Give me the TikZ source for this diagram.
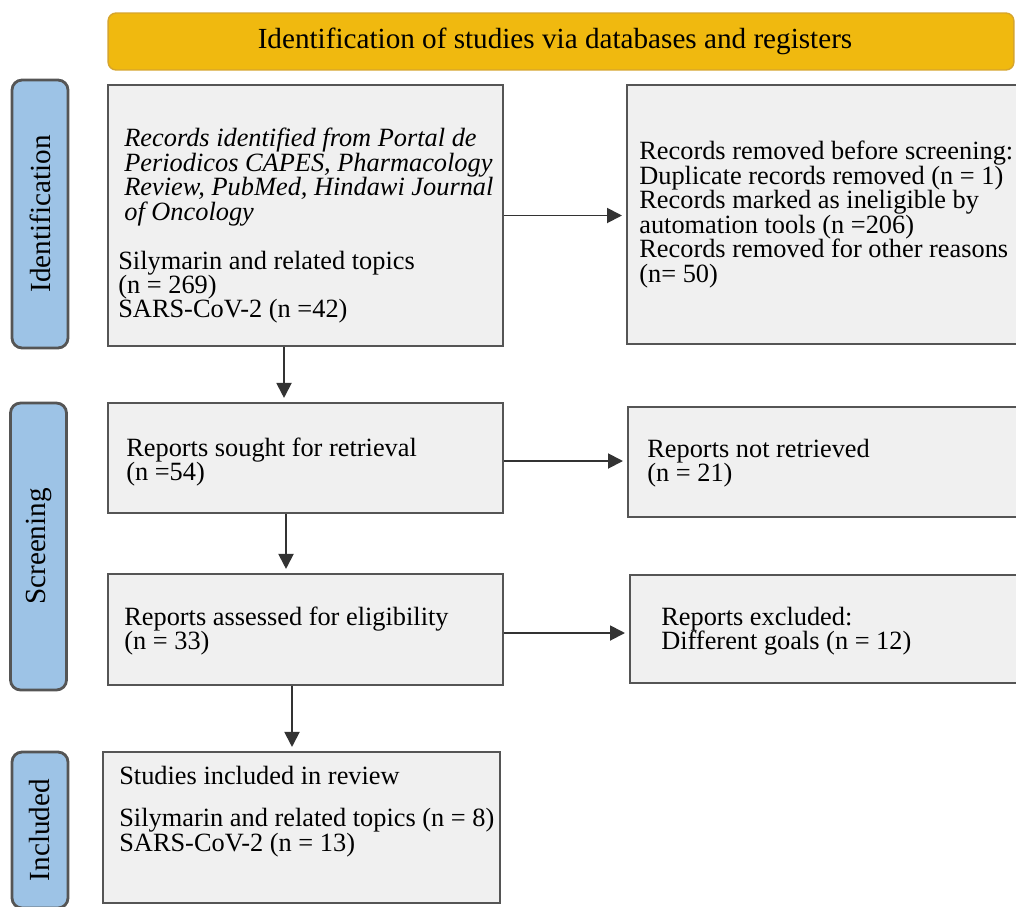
\documentclass[tikz,border=0pt]{standalone}
\usepackage{fontspec}
\setmainfont{Liberation Serif}
\usetikzlibrary{arrows.meta, positioning}
\definecolor{headgold}{RGB}{240,185,15}
\definecolor{headedge}{RGB}{214,165,45}
\definecolor{sideblue}{RGB}{157,195,230}
\definecolor{boxgray}{RGB}{240,240,240}
\definecolor{edgegray}{RGB}{85,85,85}

\begin{document}
\begin{tikzpicture}[
  x=0.02cm, y=-0.02cm,
  head/.style={draw=headedge, fill=headgold, rounded corners=0.16cm,
               line width=0.8pt, minimum width=18.12cm, minimum height=1.14cm,
               font=\fontsize{16.6}{18}\selectfont},
  side/.style={draw=edgegray, fill=sideblue, rounded corners=0.2cm,
               line width=1.6pt, rotate=90, minimum height=1.12cm,
               font=\fontsize{16.6}{18}\selectfont},
  box/.style={draw=edgegray, fill=boxgray, line width=1.2pt, minimum width=7.9cm},
  txt/.style={align=left, inner sep=0pt, anchor=west,
              font=\fontsize{15}{13.9}\selectfont},
  arr/.style={-{Triangle[length=0.3cm, width=0.3cm]}, line width=1.1pt,
              draw=black!80, shorten >=0.08cm}
]
\useasboundingbox (0,0) rectangle (1016,906);

%% ——— Cabecera ———
\node[head] (head) at (561,41.5)
  {\hspace*{-0.24cm}Identification of studies via databases and registers};

%% ——— Etiquetas laterales ———
\node[side, minimum width=5.36cm] (sideI) at (40,214)    {Identification};
\node[side, minimum width=5.74cm] (sideS) at (38.5,546.5) {Screening};
\node[side, minimum width=3.12cm] (sideN) at (40,830)    {Included};

%% ——— Cajas ———
\node[box, minimum height=5.22cm] (rec) at (305.5,215.5) {};
\node[box, minimum width=7.94cm, minimum height=5.18cm] (removed) at (825.5,214.5) {};
\node[box, minimum height=2.2cm] (sought) at (305.5,458) {};
\node[box, minimum width=7.92cm, minimum height=2.2cm] (notret) at (826,462) {};
\node[box, minimum height=2.22cm] (assessed) at (305.5,629.5) {};
\node[box, minimum width=7.88cm, minimum height=2.16cm] (excluded) at (827,629) {};
\node[box, minimum width=7.94cm, minimum height=3.02cm] (included) at (301.5,827.5) {};

%% ——— Textos ———
\node[txt] (rec-t) at ([xshift=0.22cm, yshift=-0.21cm]rec.west) {%
  \hspace*{0.12cm}\textit{Records identified from Portal de}\\
  \hspace*{0.12cm}\textit{Periodicos CAPES, Pharmacology}\\
  \hspace*{0.12cm}\textit{Review, PubMed, Hindawi Journal}\\
  \hspace*{0.12cm}\textit{of Oncology}\\[0.49cm]
  Silymarin and related topics\\
  (n = 269)\\
  SARS-CoV-2 (n =42)};
\node[txt] (removed-t) at ([xshift=0.26cm]removed.west) {%
  Records removed before screening:\\
  Duplicate records removed (n = 1)\\
  Records marked as ineligible by\\
  automation tools (n =206)\\
  Records removed for other reasons\\
  (n= 50)};
\node[txt] (sought-t) at ([xshift=0.38cm, yshift=-0.08cm]sought.west)
  {Reports sought for retrieval\\(n =54)};
\node[txt] (notret-t) at ([xshift=0.4cm, yshift=-0.02cm]notret.west)
  {Reports not retrieved\\(n = 21)};
\node[txt] (assessed-t) at ([xshift=0.34cm, yshift=-0.03cm]assessed.west)
  {Reports assessed for eligibility\\(n = 33)};
\node[txt] (excluded-t) at ([xshift=0.64cm, yshift=-0.04cm]excluded.west)
  {Reports excluded:\\Different goals (n = 12)};
\node[txt] (included-t) at ([xshift=0.34cm, yshift=0.32cm]included.west)
  {Studies included in review\\[0.36cm]Silymarin and related topics (n = 8)\\SARS-CoV-2 (n = 13)};

%% ——— Flechas ———
\coordinate (a1) at ([xshift=-0.43cm]rec.south);
\coordinate (a2) at ([xshift=-0.39cm]sought.south);
\coordinate (a3) at ([xshift=-0.27cm]assessed.south);
\coordinate (b2) at ([yshift=-0.06cm]sought.east);
\coordinate (b3) at ([yshift=-0.07cm]assessed.east);

\draw[arr] (rec.east) -- (rec.east -| removed.west);
\draw[arr] (a1) -- (a1 |- sought.north);
\draw[arr] (b2) -- (b2 -| notret.west);
\draw[arr] (a2) -- (a2 |- assessed.north);
\draw[arr] (b3) -- (b3 -| excluded.west);
\draw[arr] (a3) -- (a3 |- included.north);

\end{tikzpicture}
\end{document}
